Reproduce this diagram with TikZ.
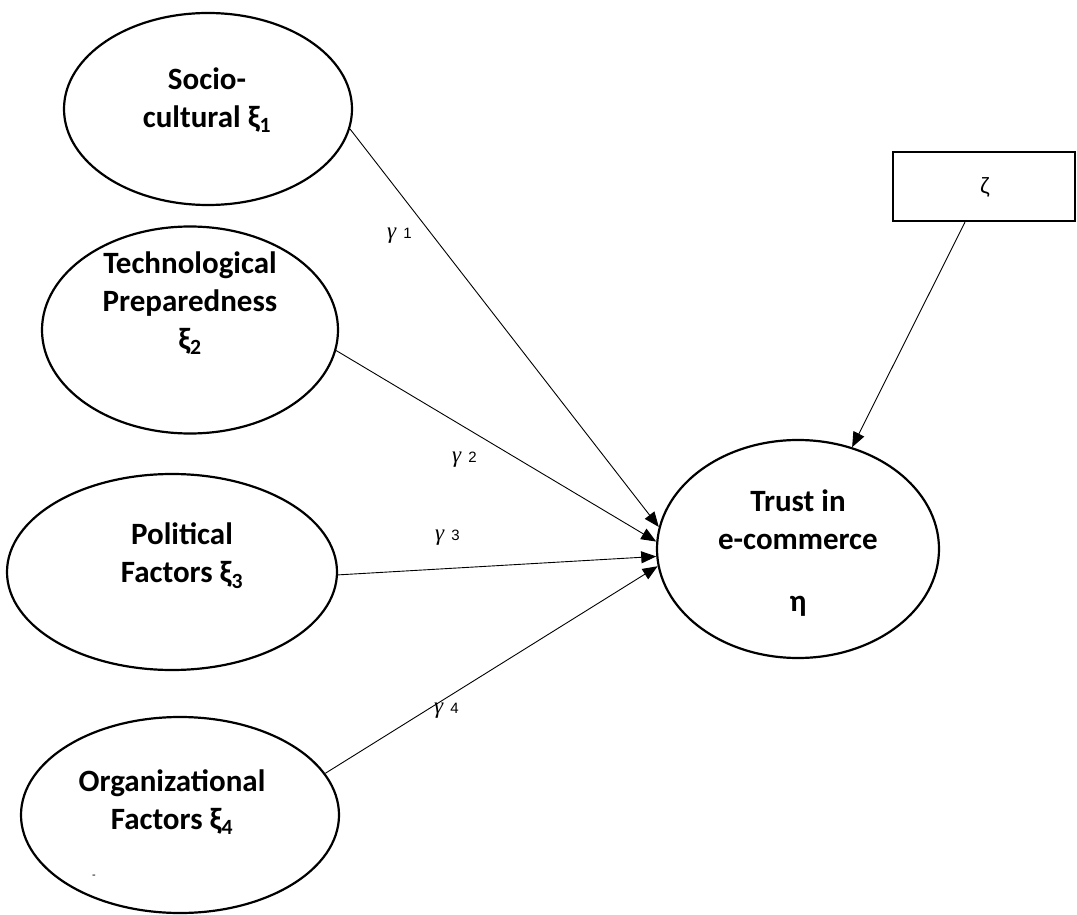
\documentclass[tikz,border=0pt]{standalone}
\usepackage{fontspec}
\setmainfont{Carlito}
\newfontfamily\arialgr{Liberation Sans}
\newfontfamily\timesgr{Liberation Serif}
\usetikzlibrary{shapes.geometric,arrows.meta}

\newcommand{\coefg}[1]{{\timesgr\itshape\fontsize{23}{23}\selectfont γ}\hspace{7pt}{\arialgr\fontsize{15}{15}\selectfont #1}}

\begin{document}
\begin{tikzpicture}[x=1pt,y=-1pt,
  latent/.style={ellipse,draw,line width=2.2pt,inner sep=0pt},
  lbl/.style={font=\fontsize{31}{38}\selectfont\bfseries,align=center,inner sep=0pt},
  effect/.style={line width=0.9pt,-{Triangle[length=15pt,width=12pt]}},
  coef/.style={inner sep=0pt,anchor=base west}]
\useasboundingbox (0,0) rectangle (1077,915);

% exogenous constructs
\node[latent,minimum width=288pt,minimum height=192pt] (e1) at (208,109) {};
\node[latent,minimum width=296pt,minimum height=207pt] (e2) at (190,330) {};
\node[latent,minimum width=330pt,minimum height=196pt] (e3) at (172,572) {};
\node[latent,minimum width=318pt,minimum height=196pt] (e4) at (180,815) {};

% endogenous construct and disturbance
\node[latent,minimum width=282pt,minimum height=218pt] (eta) at (798,549) {};
\node[draw,line width=2.6pt,minimum width=182pt,minimum height=69pt,inner sep=0pt] (zeta) at (984,186.5) {};

% construct labels
\node[lbl] (t1) at (207,100) {Socio-\\cultural ξ\textsubscript{1}};
\node[lbl] (t2) at (190,303) {Technological\\Preparedness\\ξ\textsubscript{2}};
\node[lbl] (t3) at (182,556) {Political\\Factors ξ\textsubscript{3}};
\node[lbl] (t4) at (172,802) {Organizational\\Factors ξ\textsubscript{4}};
\node[lbl] (t5) at (798,553) {Trust in\\e-commerce\\[24pt]η};
\node[inner sep=0pt,font=\arialgr\fontsize{22}{22}\selectfont] (tz) at (985,187) {ζ};
\node[inner sep=0pt,font=\arialgr\fontsize{11}{11}\selectfont] (dash) at (94,877) {-};

% structural paths
\draw[effect] (e1.-8) -- (eta.171);
\draw[effect] (e2.-8) -- (eta.177.6);
\draw[effect] (e3.-1.7) -- (eta.183);
\draw[effect] (e4.16) -- (eta.187);
\draw[effect] (zeta.-118.8) -- (eta.62);

% path coefficients
\node[coef] (g1) at (387,238) {\coefg{1}};
\node[coef] (g2) at (452,462) {\coefg{2}};
\node[coef] (g3) at (435,540) {\coefg{3}};
\node[coef] (g4) at (434,713) {\coefg{4}};
\end{tikzpicture}
\end{document}
